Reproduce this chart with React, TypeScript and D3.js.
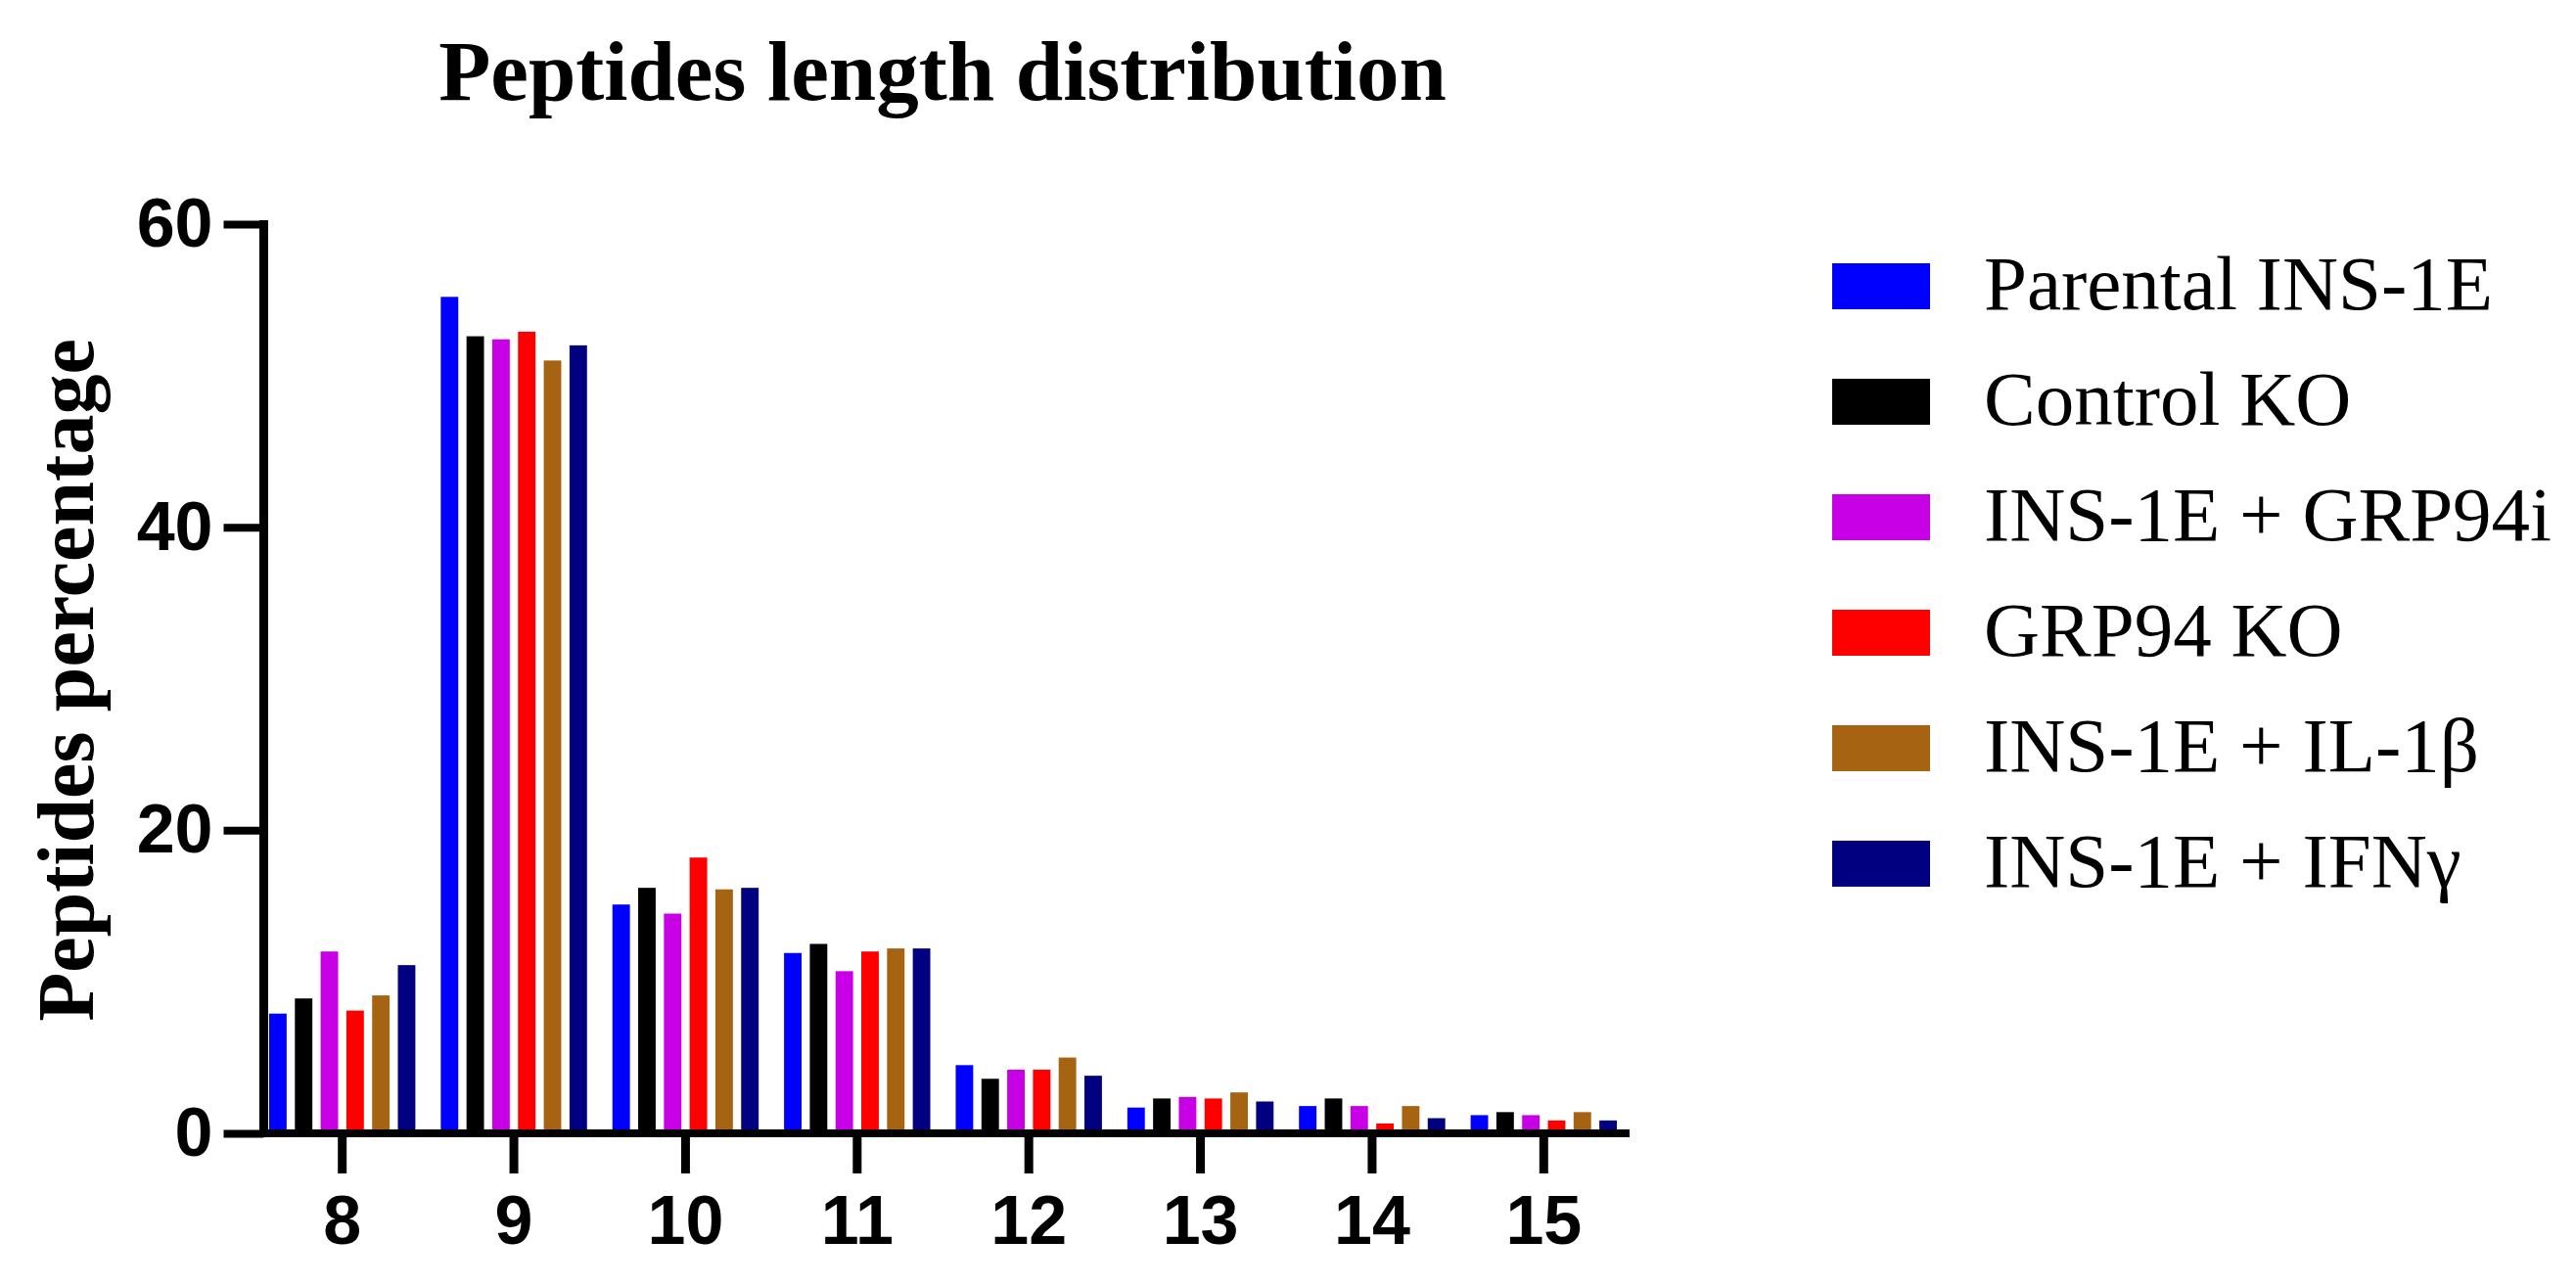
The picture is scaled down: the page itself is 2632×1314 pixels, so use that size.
import React, { useEffect, useRef } from 'react';
import * as d3 from 'd3';

// peptide lengths on the x axis
const lengths = ['8', '9', '10', '11', '12', '13', '14', '15'];

// percentage of peptides per length, one array per sample
const parental = [7.9, 55.2, 15.1, 11.9, 4.5, 1.7, 1.8, 1.2];
const controlKo = [8.9, 52.6, 16.2, 12.5, 3.6, 2.3, 2.3, 1.4];
const grp94i = [12.0, 52.4, 14.5, 10.7, 4.2, 2.4, 1.8, 1.2];
const grp94Ko = [8.1, 52.9, 18.2, 12.0, 4.2, 2.3, 0.65, 0.85];
const il1b = [9.1, 51.0, 16.1, 12.2, 5.0, 2.7, 1.8, 1.4];
const ifng = [11.1, 52.0, 16.2, 12.2, 3.8, 2.1, 1.0, 0.85];

const seriesNames = [
  'Parental INS-1E',
  'Control KO',
  'INS-1E + GRP94i',
  'GRP94 KO',
  'INS-1E + IL-1β',
  'INS-1E + IFNγ',
];
const seriesValues = [parental, controlKo, grp94i, grp94Ko, il1b, ifng];
const seriesColors = ['#0000FF', '#000000', '#C800E6', '#FF0000', '#A66412', '#000080'];

const yTicks = [0, 20, 40, 60];

const W = 2632;
const H = 1314;
const sans = '"Liberation Sans", Arial, sans-serif';
const serif = '"Liberation Serif", "Times New Roman", serif';

export default function App() {
  const xAxisRef = useRef<SVGGElement>(null);
  const yAxisRef = useRef<SVGGElement>(null);

  const x = d3.scaleBand().domain(lengths).range([262, 1665]).padding(0);
  const groupW = x.step() * 0.9;
  const xInner = d3
    .scaleBand()
    .domain(seriesNames)
    .range([-groupW / 2, groupW / 2])
    .paddingInner(0.32)
    .paddingOuter(0.16);
  const y = d3.scaleLinear().domain([0, 60]).range([1158, 229]);

  const legendY = d3
    .scaleBand()
    .domain(seriesNames)
    .range([269, 269 + 118 * 6]);

  useEffect(() => {
    // y axis
    const ya = d3.select(yAxisRef.current!);
    ya.call(
      d3.axisLeft(y).tickValues(yTicks).tickSize(41).tickSizeOuter(0).tickPadding(11) as any
    );
    ya.select('.domain')
      .attr('d', `M0,${y(0) + 4}V${y(60) - 4}`)
      .attr('stroke', '#000')
      .attr('stroke-width', 9);
    ya.selectAll('.tick line').attr('stroke', '#000').attr('stroke-width', 8);
    ya.selectAll('.tick text')
      .attr('fill', '#000')
      .style('font-family', sans)
      .style('font-weight', 'bold')
      .style('font-size', '70px');

    // x axis
    const xa = d3.select(xAxisRef.current!);
    xa.call(d3.axisBottom(x).tickSize(41).tickSizeOuter(0).tickPadding(22) as any);
    xa.select('.domain')
      .attr('d', `M${265 - 262},0H${1665 - 262}`)
      .attr('transform', 'translate(262,0)')
      .attr('stroke', '#000')
      .attr('stroke-width', 8);
    xa.selectAll('.tick line').attr('stroke', '#000').attr('stroke-width', 9);
    xa.selectAll('.tick text')
      .attr('fill', '#000')
      .style('font-family', sans)
      .style('font-weight', 'bold')
      .style('font-size', '70px');
  }, []);

  return (
    <div style={{ position: 'absolute', left: 0, top: 0 }}>
      <svg width={W} height={H} style={{ display: 'block', background: '#fff' }}>
        <text
          x={963}
          y={102}
          textAnchor="middle"
          fontFamily={serif}
          fontWeight="bold"
          fontSize={87}
          fill="#000"
        >
          Peptides length distribution
        </text>

        <text
          transform="translate(95,695) rotate(-90)"
          textAnchor="middle"
          fontFamily={serif}
          fontWeight="bold"
          fontSize={82}
          fill="#000"
        >
          Peptides percentage
        </text>

        {/* bars */}
        {lengths.map((len, i) => (
          <g key={len} transform={`translate(${x(len)! + x.bandwidth() / 2},0)`}>
            {seriesNames.map((name, s) => {
              const v = seriesValues[s][i];
              return (
                <rect
                  key={name}
                  x={xInner(name)}
                  y={y(v)}
                  width={xInner.bandwidth()}
                  height={y(0) - y(v)}
                  fill={seriesColors[s]}
                />
              );
            })}
          </g>
        ))}

        <g ref={yAxisRef} transform="translate(269.5,0)" />
        <g ref={xAxisRef} transform={`translate(0,${y(0)})`} />

        {/* legend */}
        {seriesNames.map((name, s) => (
          <g key={name} transform={`translate(0,${legendY(name)})`}>
            <rect x={1872} y={0} width={100} height={47} fill={seriesColors[s]} />
            <text x={2027} y={47} fontFamily={serif} fontSize={79} fill="#000">
              {name}
            </text>
          </g>
        ))}
      </svg>
    </div>
  );
}
